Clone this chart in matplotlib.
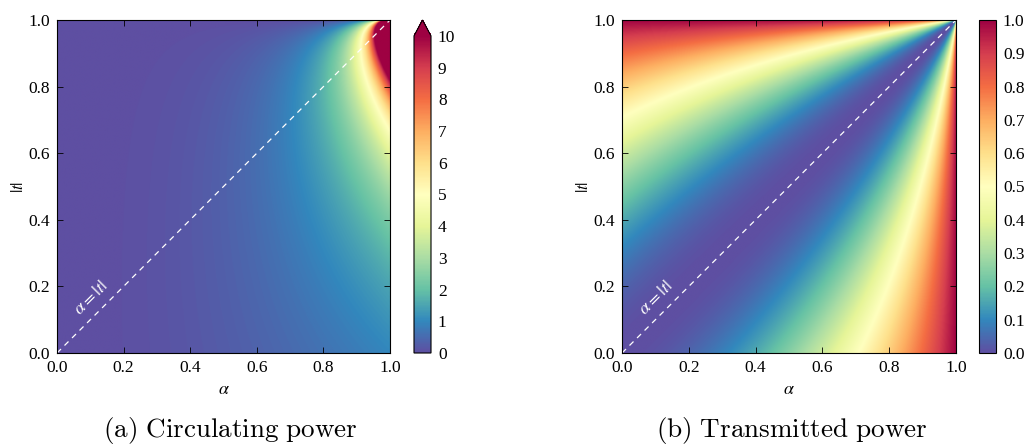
import numpy as np
import matplotlib
matplotlib.use("Agg")
import matplotlib.pyplot as plt

plt.rcParams['font.family'] = ['Liberation Serif', 'DejaVu Serif']
plt.rcParams['mathtext.fontset'] = 'stix'
plt.rcParams['font.size'] = 12.5

# Grid of loss (alpha) and self-coupling |t|
alpha = np.linspace(0, 1, 600)
t = np.linspace(0, 1, 600)
A, T = np.meshgrid(alpha, t)
with np.errstate(divide='ignore', invalid='ignore'):
    P_circ = A**2 * (1 - T**2) / (1 - A * T)**2
    P_trans = (A - T)**2 / (1 - A * T)**2
P_circ = np.nan_to_num(P_circ, nan=10.0, posinf=10.0)
P_trans = np.nan_to_num(P_trans, nan=1.0, posinf=1.0)

ticks_axis = [0.0, 0.2, 0.4, 0.6, 0.8, 1.0]
cbar_ticks_a = list(range(0, 11))
cbar_ticks_b = [round(0.1 * i, 1) for i in range(11)]
captions = ['(a) Circulating power', '(b) Transmitted power']

W, H = 1027, 446
fig = plt.figure(figsize=(W / 100, H / 100), dpi=100)

def ax_rect(x0, y0, x1, y1):
    return [x0 / W, 1 - y1 / H, (x1 - x0) / W, (y1 - y0) / H]

panels = [
    dict(data=P_circ, vmax=10, extend='max', ax=(57, 20, 390, 353), cax=(414, 20, 431, 353),
         cticks=cbar_ticks_a, cfmt='{:d}', capx=230),
    dict(data=P_trans, vmax=1, extend='neither', ax=(622, 20, 956, 353), cax=(979, 20, 996, 353),
         cticks=cbar_ticks_b, cfmt='{:.1f}', capx=792),
]

for i, p in enumerate(panels):
    ax = fig.add_axes(ax_rect(*p['ax']))
    im = ax.imshow(p['data'], origin='lower', extent=[0, 1, 0, 1], aspect='auto',
                   cmap='Spectral_r', vmin=0, vmax=p['vmax'], interpolation='bilinear')
    ax.plot([0, 1], [0, 1], '--', color='white', lw=0.9, dashes=(4.5, 4))
    ax.text(0.1, 0.165, r'$\alpha = |t|$', color='white', rotation=45, ha='center', va='center',
            fontsize=13)
    ax.set_xlim(0, 1)
    ax.set_ylim(0, 1)
    ax.set_xticks(ticks_axis)
    ax.set_yticks(ticks_axis)
    ax.set_xticklabels([f'{v:.1f}' for v in ticks_axis])
    ax.set_yticklabels([f'{v:.1f}' for v in ticks_axis])
    ax.tick_params(direction='in', top=True, right=True, length=4, width=0.6, labelsize=12.5, pad=5)
    for s in ax.spines.values():
        s.set_linewidth(0.8)
    ax.set_xlabel(r'$\alpha$', fontsize=13, labelpad=4)
    ax.set_ylabel(r'$|t|$', fontsize=12, labelpad=1)

    cax = fig.add_axes(ax_rect(*p['cax']))
    cb = fig.colorbar(im, cax=cax, extend=p['extend'], extendfrac=0.05)
    cb.set_ticks(p['cticks'])
    cb.set_ticklabels([p['cfmt'].format(v) for v in p['cticks']])
    cb.ax.tick_params(length=0, labelsize=12.5, pad=5)
    cb.outline.set_linewidth(0.8)

    fig.text(p['capx'] / W, 1 - 430 / H, r'$\mathrm{' + captions[i].replace(' ', r'\ ') + '}$',
             math_fontfamily='cm', fontsize=19.5, ha='center', va='center')

fig.savefig('out.png', dpi=100)
